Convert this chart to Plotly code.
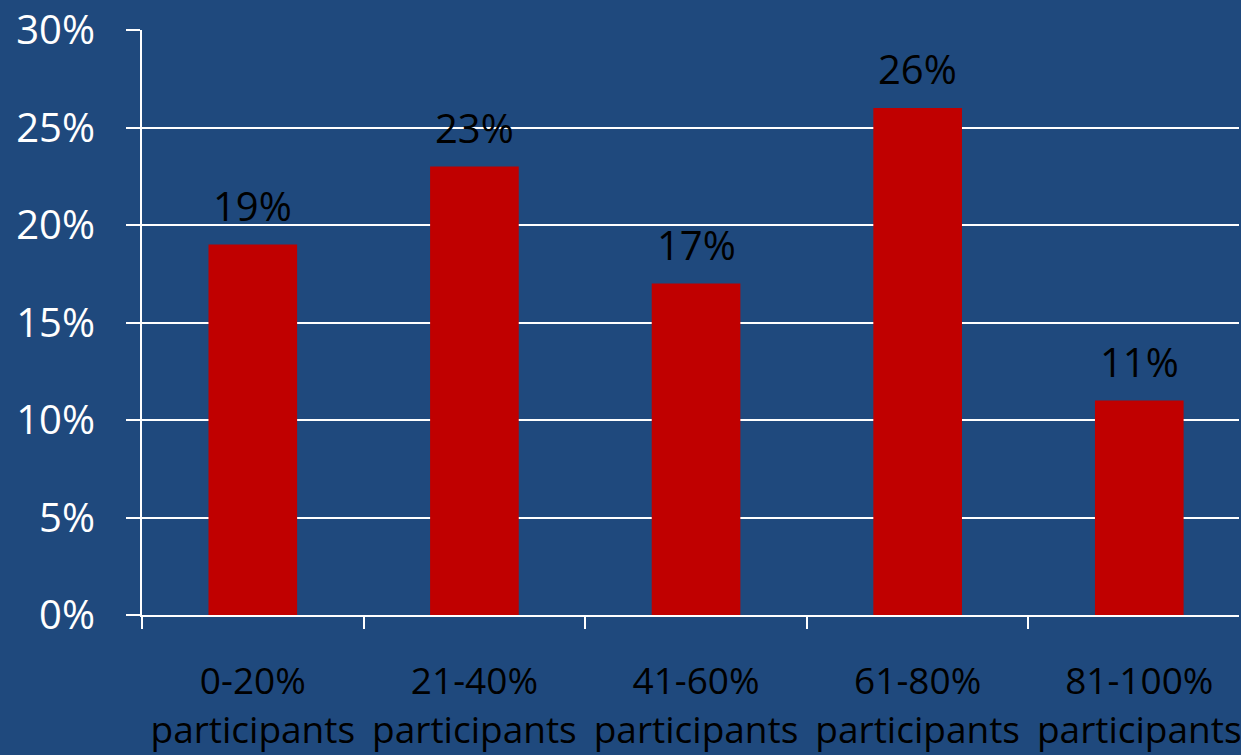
import plotly.graph_objects as go

categories = ["0-20%", "21-40%", "41-60%", "61-80%", "81-100%"]
tick_labels = ["0-20%<br>participants", "21-40%<br>participants", "41-60%<br>participants",
               "61-80%<br>participants", "81-100%<br>participants"]
values = [19, 23, 17, 26, 11]
label_text = ["19%", "23%", "17%", "26%", "11%"]

BG = "#1F497D"
BAR = "#C00000"
FONT = "Open Sans"

fig = go.Figure()
fig.add_trace(go.Bar(x=categories, y=values, marker_color=BAR, width=0.4,
                     marker_line_width=0, hoverinfo="skip"))

for c, v, t in zip(categories, values, label_text):
    fig.add_annotation(x=c, y=v, text=t, showarrow=False, yanchor="bottom",
                       yshift=10, font=dict(family=FONT, size=40, color="black"))

fig.update_layout(
    width=1241, height=755,
    paper_bgcolor=BG, plot_bgcolor=BG,
    margin=dict(l=142, r=0, t=30, b=140),
    showlegend=False,
    bargap=0.6,
)
fig.update_xaxes(
    type="category", range=[-0.5, 4.45],
    tickmode="array", tickvals=categories, ticktext=tick_labels,
    tickson="boundaries", ticks="outside", ticklen=12, tickwidth=2, tickcolor="white",
    showline=True, linecolor="white", linewidth=2,
    showgrid=False,
    tickfont=dict(family=FONT, size=37, color="black"),
    ticklabelstandoff=33,
)
fig.update_yaxes(
    range=[0, 30], dtick=5, ticksuffix="%",
    ticks="outside", ticklen=14, tickwidth=2, tickcolor="white",
    showline=True, linecolor="white", linewidth=2,
    showgrid=True, gridcolor="white", gridwidth=1.5,
    zeroline=False,
    tickfont=dict(family=FONT, size=40, color="white"),
    ticklabelstandoff=23,
)

fig.write_html("out.html")
